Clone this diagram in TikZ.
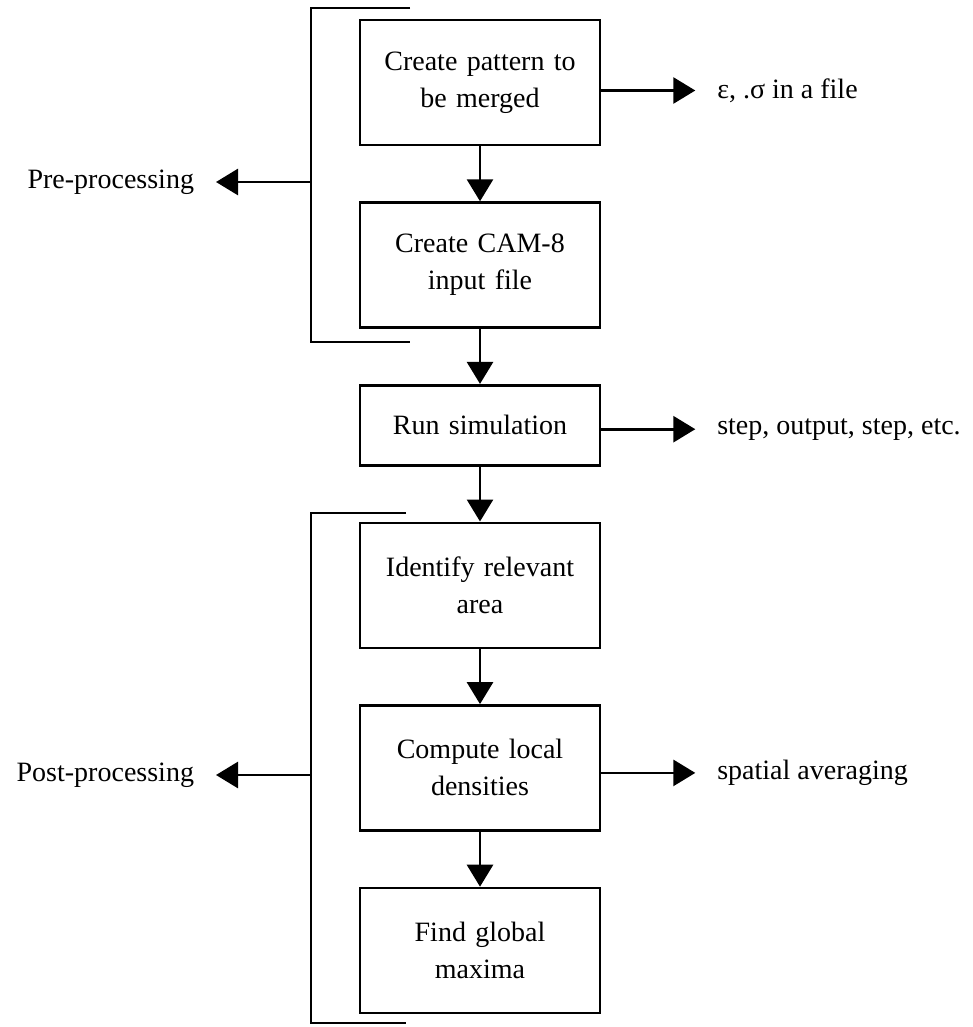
\documentclass[tikz,border=0pt]{standalone}
\usepackage{fontspec}
\setmainfont{Liberation Serif}
\usetikzlibrary{positioning,arrows.meta}
\tikzstyle{stage} = [draw, rectangle, line width=1.3pt, minimum width=120pt, minimum height=62.5pt, text width=112pt, align=center, inner sep=0pt, font=\fontsize{14}{18.5}\selectfont]
\tikzstyle{note} = [inner sep=0pt, outer sep=11pt, font=\fontsize{14}{18.5}\selectfont]
\tikzstyle{flow} = [line width=1.4pt, -{Triangle[length=11pt,width=13pt]}]
\tikzstyle{bracket} = [line width=1pt]

\begin{document}
\begin{tikzpicture}[node distance=27.5pt]
    \useasboundingbox (0,0) rectangle (486.5pt,-513.5pt);
    % main chain of stages
    \node[stage] (pattern) at (240pt,-41.25pt) {Create pattern to\\be merged};
    \node[stage, below=of pattern] (input) {Create CAM-8\\input file};
    \node[stage, below=of input, minimum height=40pt] (run) {Run simulation};
    \node[stage, below=of run] (area) {Identify relevant\\area};
    \node[stage, below=of area] (dens) {Compute local\\densities};
    \node[stage, below=of dens] (maxima) {Find global\\maxima};
    \foreach \a/\b in {pattern/input, input/run, run/area, area/dens, dens/maxima}
        \draw[flow] (\a) -- (\b);
    % side outputs
    \node[note, right=47pt of pattern, yshift=-4pt] (epsfile) {ε, .σ in a file};
    \node[note, right=47pt of run, yshift=-2pt] (steps) {step, output, step, etc.};
    \node[note, right=47pt of dens, yshift=-2.5pt] (avg) {spatial averaging};
    \draw[flow] (pattern.east |- epsfile) -- (epsfile);
    \draw[flow] (run.east |- steps) -- (steps);
    \draw[flow] (dens.east |- avg) -- (avg);
    % brackets and their labels
    \draw[bracket] (205pt,-4pt) -| (155.5pt,-171pt) -- (205pt,-171pt);
    \draw[bracket] (203pt,-256.5pt) -| (155.5pt,-511.5pt) -- (203pt,-511.5pt);
    \coordinate (premid) at (155.5pt,-91pt);
    \coordinate (postmid) at (155.5pt,-387.5pt);
    \node[note, left=47.5pt of premid] (pre) {Pre-processing};
    \node[note, left=47.5pt of postmid] (post) {Post-processing};
    \draw[flow] (premid) -- (pre);
    \draw[flow] (postmid) -- (post);
\end{tikzpicture}
\end{document}
